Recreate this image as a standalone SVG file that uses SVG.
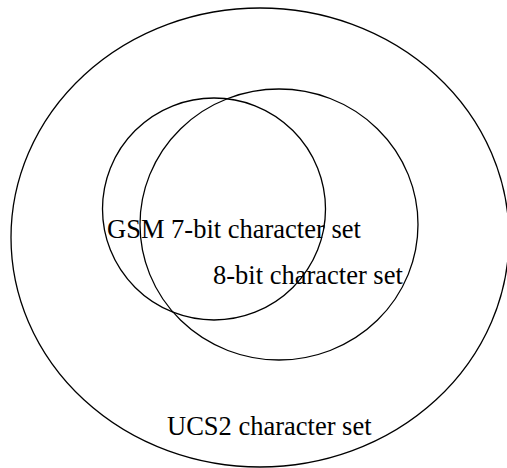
<svg xmlns="http://www.w3.org/2000/svg" width="507" height="468" viewBox="0 0 507 468">
<style>
.set{fill:none;stroke:#000;stroke-width:1.3}
.lbl{font-family:"Liberation Serif","Times New Roman",serif;font-size:26.5px;fill:#000}
</style>
<rect width="507" height="468" fill="#fff"/>
<g id="ucs2">
<ellipse class="set" cx="260" cy="237.5" rx="249" ry="229.5"/>
<text class="lbl" x="167" y="435">UCS2 character set</text>
</g>
<g id="gsm7">
<ellipse class="set" cx="214" cy="209" rx="111.5" ry="111"/>
<text class="lbl" x="107" y="238">GSM 7-bit character set</text>
</g>
<g id="bit8">
<ellipse class="set" cx="279" cy="224.5" rx="139" ry="135.5"/>
<text class="lbl" x="213" y="284">8-bit character set</text>
</g>
<g id="connectors"/>
</svg>
